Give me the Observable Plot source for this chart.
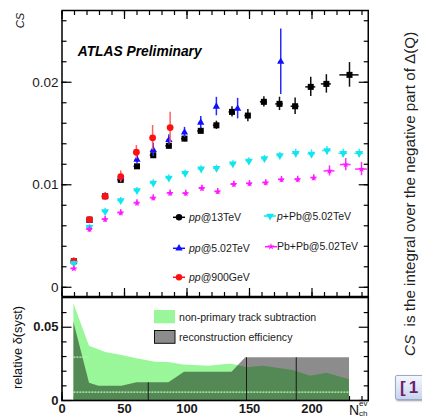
<!DOCTYPE html>
<html><head><meta charset="utf-8">
<script src="https://cdn.jsdelivr.net/npm/d3@7"></script>
<script src="https://cdn.jsdelivr.net/npm/@observablehq/plot@0.6"></script>
<style>
html,body{margin:0;padding:0;background:#fff;width:422px;height:418px;overflow:hidden;position:relative;font-family:"Liberation Sans",Arial,Helvetica,sans-serif;}
#top,#bot{position:absolute;left:0;}
#top{top:0}
#bot{top:296px}
#side{position:absolute;left:401px;top:356px;transform-origin:0 0;transform:rotate(-90deg);white-space:nowrap;font-size:15.2px;line-height:17px;color:#222;}
#ref{position:absolute;left:395px;top:375px;width:44px;height:23px;border:1px solid #9aa8cc;border-radius:2px;background:linear-gradient(#f4f7fd,#c6d5ee);box-shadow:1px 1px 2px #99a;font-weight:bold;font-size:17px;letter-spacing:3px;color:#6e1c6e;padding-left:4px;line-height:23px;white-space:nowrap;}
#xl{position:absolute;left:349px;top:403px;font-size:14px;line-height:14px;color:#111;white-space:nowrap;}
#xl .s{position:absolute;left:10px;font-size:8px;line-height:8px;}
</style></head><body>
<div id="top"></div><div id="bot"></div>
<div id="side"><i>CS</i>&nbsp; is the integral over the negative part of Δ(Q)</div>
<div id="ref">[1</div>
<div id="xl">N<span class="s" style="top:-3px">ev</span><span class="s" style="top:7px">ch</span></div>
<script>
// ---------- data ----------
// pp @ 13 TeV (black squares)
const xPP13  = [9.5, 22, 34.5, 47, 60, 73, 85.5, 98, 111, 123.5, 136, 148.7, 161.5, 174, 186.5, 199, 211.5, 230];
const yPP13  = [0.00254, 0.0066, 0.00888, 0.01048, 0.0118, 0.01288, 0.0138, 0.0145, 0.01526, 0.0158, 0.01711, 0.01675, 0.01809, 0.01789, 0.01766, 0.01955, 0.01984, 0.02072];
const eyPP13 = [0.0002, 0.0002, 0.0002, 0.0002, 0.0002, 0.0002, 0.0003, 0.0003, 0.0003, 0.0004, 0.0005, 0.0006, 0.0005, 0.00065, 0.0008, 0.00095, 0.0009, 0.0012];
const exPP13 = [2.4, 2.4, 2.4, 2.4, 2.4, 2.4, 2.4, 2.4, 2.4, 2.4, 2.4, 2.4, 2.8, 3, 3.2, 4, 4, 7.7];
// pp @ 5.02 TeV (blue triangles)
const xPP5  = [9.5, 22, 34.5, 47, 60, 73, 85.5, 98, 111, 123.5, 140.5, 175];
const yPP5  = [0.00254, 0.0065, 0.0089, 0.0107, 0.01246, 0.0134, 0.01438, 0.0151, 0.01607, 0.01763, 0.01743, 0.0220];
const eyPP5 = [0.0002, 0.0002, 0.0002, 0.0003, 0.0004, 0.00065, 0.0005, 0.0005, 0.0006, 0.0009, 0.001, 0.0032];
const exPP5 = [1.5, 1.5, 1.5, 1.5, 1.5, 1.5, 1.5, 1.5, 1.5, 1.5, 1.5, 1.5];
// pp @ 900 GeV (red circles)
const xPP09  = [9.5, 22, 34.5, 47, 59.5, 72.5, 86.5];
const yPP09  = [0.00254, 0.0066, 0.00888, 0.0108, 0.01317, 0.01458, 0.01558];
const eyPP09 = [0.0002, 0.0003, 0.0003, 0.00055, 0.00065, 0.0012, 0.0015];
const exPP09 = [1.5, 1.5, 1.5, 1.5, 1.5, 1.5, 1.5];
// p+Pb @ 5.02 TeV (cyan inverted triangles)
const xPPb  = [9.5, 22, 34.5, 47, 60, 73, 85.5, 98.5, 111.3, 123.6, 136.7, 149.5, 162, 174.3, 187, 199.6, 212, 225, 237.8];
const yPPb  = [0.00234, 0.00585, 0.0074, 0.00846, 0.00943, 0.01018, 0.01067, 0.01112, 0.01155, 0.01161, 0.01204, 0.01233, 0.01256, 0.01285, 0.01307, 0.01301, 0.01334, 0.01307, 0.01307];
const eyPPb = [0.0002, 0.0003, 0.0003, 0.0003, 0.0003, 0.0003, 0.0003, 0.0003, 0.0003, 0.0003, 0.0003, 0.0003, 0.0003, 0.0003, 0.0004, 0.0004, 0.0004, 0.0004, 0.0004];
const exPPb = [2.4, 2.4, 2.4, 2.4, 2.4, 2.4, 2.4, 2.4, 2.4, 2.4, 2.4, 2.4, 2.4, 2.4, 2.8, 2.8, 3.5, 3.5, 3.5];
// Pb+Pb @ 5.02 TeV (magenta stars)
const xPbPb  = [9.5, 22, 34.5, 47, 60, 73, 86.5, 99, 112, 124.6, 137.5, 150, 163, 175.6, 188.6, 201.4, 214, 227, 239.6];
const yPbPb  = [0.00182, 0.00566, 0.00663, 0.00727, 0.00823, 0.00872, 0.00919, 0.00917, 0.00966, 0.00934, 0.01005, 0.01012, 0.0102, 0.01051, 0.01052, 0.01068, 0.01135, 0.01197, 0.01153];
const eyPbPb = [0.0002, 0.0003, 0.0003, 0.0003, 0.0003, 0.0003, 0.0003, 0.0003, 0.0003, 0.0003, 0.0003, 0.0003, 0.0003, 0.0003, 0.0003, 0.0003, 0.0005, 0.0006, 0.00065];
const exPbPb = [2.4, 2.4, 2.4, 2.4, 2.4, 2.4, 2.4, 2.4, 2.4, 2.4, 2.4, 2.4, 2.4, 2.4, 2.4, 2.4, 4.4, 4.3, 4.7];

// systematic bands (lower panel)
const nonPrimX   = [9.5, 22, 35, 48, 61, 75, 85, 97.5, 117.5, 131, 136, 141.5, 148, 161, 185, 199, 212, 230];
const nonPrimTop = [0.066, 0.037, 0.0327, 0.0307, 0.0284, 0.0261, 0.026, 0.0243, 0.0234, 0.0245, 0.0248, 0.0238, 0.0223, 0.0234, 0.0205, 0.0166, 0.0186, 0.0141];
const recoX   = [9.5, 22, 29.5, 48, 60, 85.5, 98, 136, 147, 230];
const recoTop = [0.0534, 0.0118, 0.0098, 0.0098, 0.0121, 0.0121, 0.0193, 0.0193, 0.0291, 0.0291];
const dashLevel = [0.0296, 0.0057];
const dashFrom  = [9.5, 9.5];
const dashTo    = [22, 230];
const seamX   = [69, 147.6, 187.4];
const seamTop = [0.0121, 0.0291, 0.0291];

// ticks and labels
const xMajorTicks = [0, 50, 100, 150, 200];
const xMinorTicks = [0, 10, 20, 30, 40, 50, 60, 70, 80, 90, 100, 110, 120, 130, 140, 150, 160, 170, 180, 190, 200, 210, 220, 230, 240];
const yMajorTicksTop = [0, 0.01, 0.02];
const yMinorTicksTop = [0, 0.002, 0.004, 0.006, 0.008, 0.01, 0.012, 0.014, 0.016, 0.018, 0.02, 0.022, 0.024, 0.026];
const yMajorTicksBot = [0, 0.05];
const yMinorTicksBot = [0.01, 0.02, 0.03, 0.04, 0.06];
const legendItalic = ["pp", "pp", "pp", "p", ""];
const legendRest = ["@13TeV", "@5.02TeV", "@900GeV", "+Pb@5.02TeV", "Pb+Pb@5.02TeV"];
const bandLabels = ["non-primary track subtraction", "reconstruction efficiency"];

// ---------- drawing ----------
const FONT = '"Liberation Sans", Arial, Helvetica, sans-serif';
const fmt = d => d === 0 ? "0" : d.toFixed(2);

function ticksX(anchor, values, len) {
  return Plot.axisX({anchor, ticks: values, tickSize: len, dy: anchor === "bottom" ? -len : len,
    tickFormat: () => "", label: null, stroke: "#000", strokeWidth: 1.2});
}
function ticksY(anchor, values, len) {
  return Plot.axisY({anchor, ticks: values, tickSize: len, dx: anchor === "left" ? len : -len,
    tickFormat: () => "", label: null, stroke: "#000", strokeWidth: 1.2});
}
function series(xs, ys, exs, eys, color, barColor, symbol, r, rotate) {
  const rows = xs.map((x, i) => ({x, y: ys[i], x1: x - exs[i], x2: x + exs[i], y1: ys[i] - eys[i], y2: ys[i] + eys[i]}));
  return [
    Plot.ruleX(rows, {x: "x", y1: "y1", y2: "y2", stroke: barColor, strokeWidth: 1.5}),
    Plot.ruleY(rows, {y: "y", x1: "x1", x2: "x2", stroke: barColor, strokeWidth: 1.5}),
    Plot.dot(rows, {x: "x", y: "y", symbol, r, fill: color, stroke: "none", rotate: rotate || 0})
  ];
}

const COL = {pp13: "#000000", pp5: "#1010ff", pp09: "#ff1010", ppb: "#10e6f0", pbpb: "#ff18ff"};

const upper = Plot.plot({
  width: 422, height: 297,
  marginLeft: 61.5, marginRight: 54.25, marginTop: 10, marginBottom: 1,
  style: {fontFamily: FONT, fontSize: "13.5px", color: "#1a1a1a", background: "transparent", overflow: "visible"},
  x: {domain: [0, 245], axis: null, label: null},
  y: {domain: [-0.0009, 0.027], axis: null, label: null},
  marks: [
    ticksX("bottom", xMinorTicks, 4), ticksX("bottom", xMajorTicks, 8),
    ticksX("top", xMinorTicks, 4), ticksX("top", xMajorTicks, 8),
    ticksY("left", yMinorTicksTop, 5), ticksY("left", yMajorTicksTop, 10),
    ticksY("right", yMinorTicksTop, 5), ticksY("right", yMajorTicksTop, 10),
    Plot.axisY({anchor: "left", ticks: yMajorTicksTop, tickSize: 0, tickPadding: 3.5, tickFormat: fmt, label: null, fontSize: 13.5}),
    ...series(xPP13, yPP13, exPP13, eyPP13, COL.pp13, "#111", "square", 3.4),
    ...series(xPP5, yPP5, exPP5, eyPP5, COL.pp5, "#2a2aff", "triangle", 2.7),
    ...series(xPP09, yPP09, exPP09, eyPP09, COL.pp09, "#ff6060", "circle", 3.4),
    ...series(xPPb, yPPb, exPPb, eyPPb, COL.ppb, "#30eaf2", "triangle", 2.9, 180),
    ...series(xPbPb, yPbPb, exPbPb, eyPbPb, COL.pbpb, "#ff30ff", "star", 2.2),
    Plot.frame({stroke: "#000", strokeWidth: 1.5})
  ]
});
document.getElementById("top").appendChild(upper);

const lower = Plot.plot({
  width: 422, height: 122,
  marginLeft: 61.5, marginRight: 54.25, marginTop: 1, marginBottom: 18,
  style: {fontFamily: FONT, fontSize: "13px", color: "#1a1a1a", background: "transparent", overflow: "visible"},
  x: {domain: [0, 245], axis: null, label: null},
  y: {domain: [0, 0.0703], axis: null, label: null},
  marks: [
    ticksX("bottom", xMinorTicks, 4), ticksX("bottom", xMajorTicks, 8),
    ticksY("left", yMinorTicksBot, 5), ticksY("left", yMajorTicksBot, 10),
    ticksY("right", yMinorTicksBot, 5), ticksY("right", yMajorTicksBot, 10),
    Plot.areaY(nonPrimX.map((x, i) => ({x, y: nonPrimTop[i]})), {x: "x", y: "y", fill: "#99f799"}),
    Plot.areaY(recoX.map((x, i) => ({x, y: recoTop[i]})), {x: "x", y: "y", fill: "#000", fillOpacity: 0.45}),
    Plot.ruleY(dashLevel.map((y, i) => ({y, x1: dashFrom[i], x2: dashTo[i]})), {y: "y", x1: "x1", x2: "x2", stroke: "#b4ffb4", strokeWidth: 1.2, strokeDasharray: "2,1"}),
    Plot.ruleX(seamX.map((x, i) => ({x, y: seamTop[i]})), {x: "x", y1: 0, y2: "y", stroke: "#1a1a1a", strokeWidth: 1}),
    Plot.frame({stroke: "#000", strokeWidth: 1.6}),
    Plot.axisY({anchor: "left", ticks: yMajorTicksBot, tickSize: 0, tickPadding: 3.5, tickFormat: fmt, label: null, fontSize: 13, fontWeight: "bold"}),
    Plot.axisX({anchor: "bottom", ticks: xMajorTicks, tickSize: 0, tickPadding: 3, tickFormat: d => String(d), label: null, fontSize: 13, fontWeight: "bold"})
  ]
});
document.getElementById("bot").appendChild(lower);

// ---------- annotations ----------
const su = d3.select(upper).append("g").attr("font-family", FONT).attr("text-anchor", "start");
su.append("text").attr("transform", "translate(24,12.7) rotate(-90)").attr("text-anchor", "end")
  .attr("font-style", "italic").attr("font-size", 11.2).attr("fill", "#111").text("CS");
su.append("text").attr("x", 77.7).attr("y", 56.3).attr("text-anchor", "start").attr("font-weight", "bold").attr("font-style", "italic")
  .attr("font-size", 13.8).attr("fill", "#000").text("ATLAS Preliminary");

const legendPos = [
  {cx: 179, cy: 217.3, tx: 189, color: COL.pp13, sym: d3.symbolCircle, r: 3.2, rot: 0},
  {cx: 179, cy: 248.3, tx: 189, color: COL.pp5, sym: d3.symbolTriangle, r: 2.7, rot: 0},
  {cx: 179, cy: 277.3, tx: 189, color: COL.pp09, sym: d3.symbolCircle, r: 3.2, rot: 0},
  {cx: 270, cy: 216, tx: 277, color: COL.ppb, sym: d3.symbolTriangle, r: 2.9, rot: 180},
  {cx: 271, cy: 246.7, tx: 277, color: COL.pbpb, sym: d3.symbolStar, r: 2.2, rot: 0}
];
legendPos.forEach((p, i) => {
  su.append("line").attr("x1", p.cx - 6).attr("x2", p.cx + 6).attr("y1", p.cy).attr("y2", p.cy)
    .attr("stroke", p.color).attr("stroke-width", 1.5);
  su.append("path").attr("d", d3.symbol(p.sym, Math.PI * p.r * p.r)())
    .attr("transform", `translate(${p.cx},${p.cy}) rotate(${p.rot})`).attr("fill", p.color);
  const t = su.append("text").attr("x", p.tx).attr("y", p.cy).attr("dy", "0.36em").attr("text-anchor", "start")
    .attr("font-size", 10.5).attr("fill", "#1a1a1a");
  if (legendItalic[i]) t.append("tspan").attr("font-style", "italic").text(legendItalic[i]);
  t.append("tspan").text(legendRest[i]);
});

const sl = d3.select(lower).append("g").attr("font-family", FONT);
sl.append("text").attr("transform", "translate(22,51.5) rotate(-90)").attr("text-anchor", "middle")
  .attr("font-size", 12.8).attr("fill", "#111").text("relative δ(syst)");
sl.append("rect").attr("x", 154).attr("y", 14).attr("width", 21).attr("height", 13.3).attr("fill", "#99f799");
sl.append("rect").attr("x", 154.5).attr("y", 34.5).attr("width", 20.5).attr("height", 12.8)
  .attr("fill", "#8c8c8c").attr("stroke", "#111").attr("stroke-width", 1);
[20.7, 40.7].forEach((y, i) => {
  sl.append("text").attr("x", 179).attr("y", y).attr("dy", "0.36em").attr("text-anchor", "start").attr("font-size", 10.6)
    .attr("fill", "#1a1a1a").text(bandLabels[i]);
});
</script>
</body></html>
